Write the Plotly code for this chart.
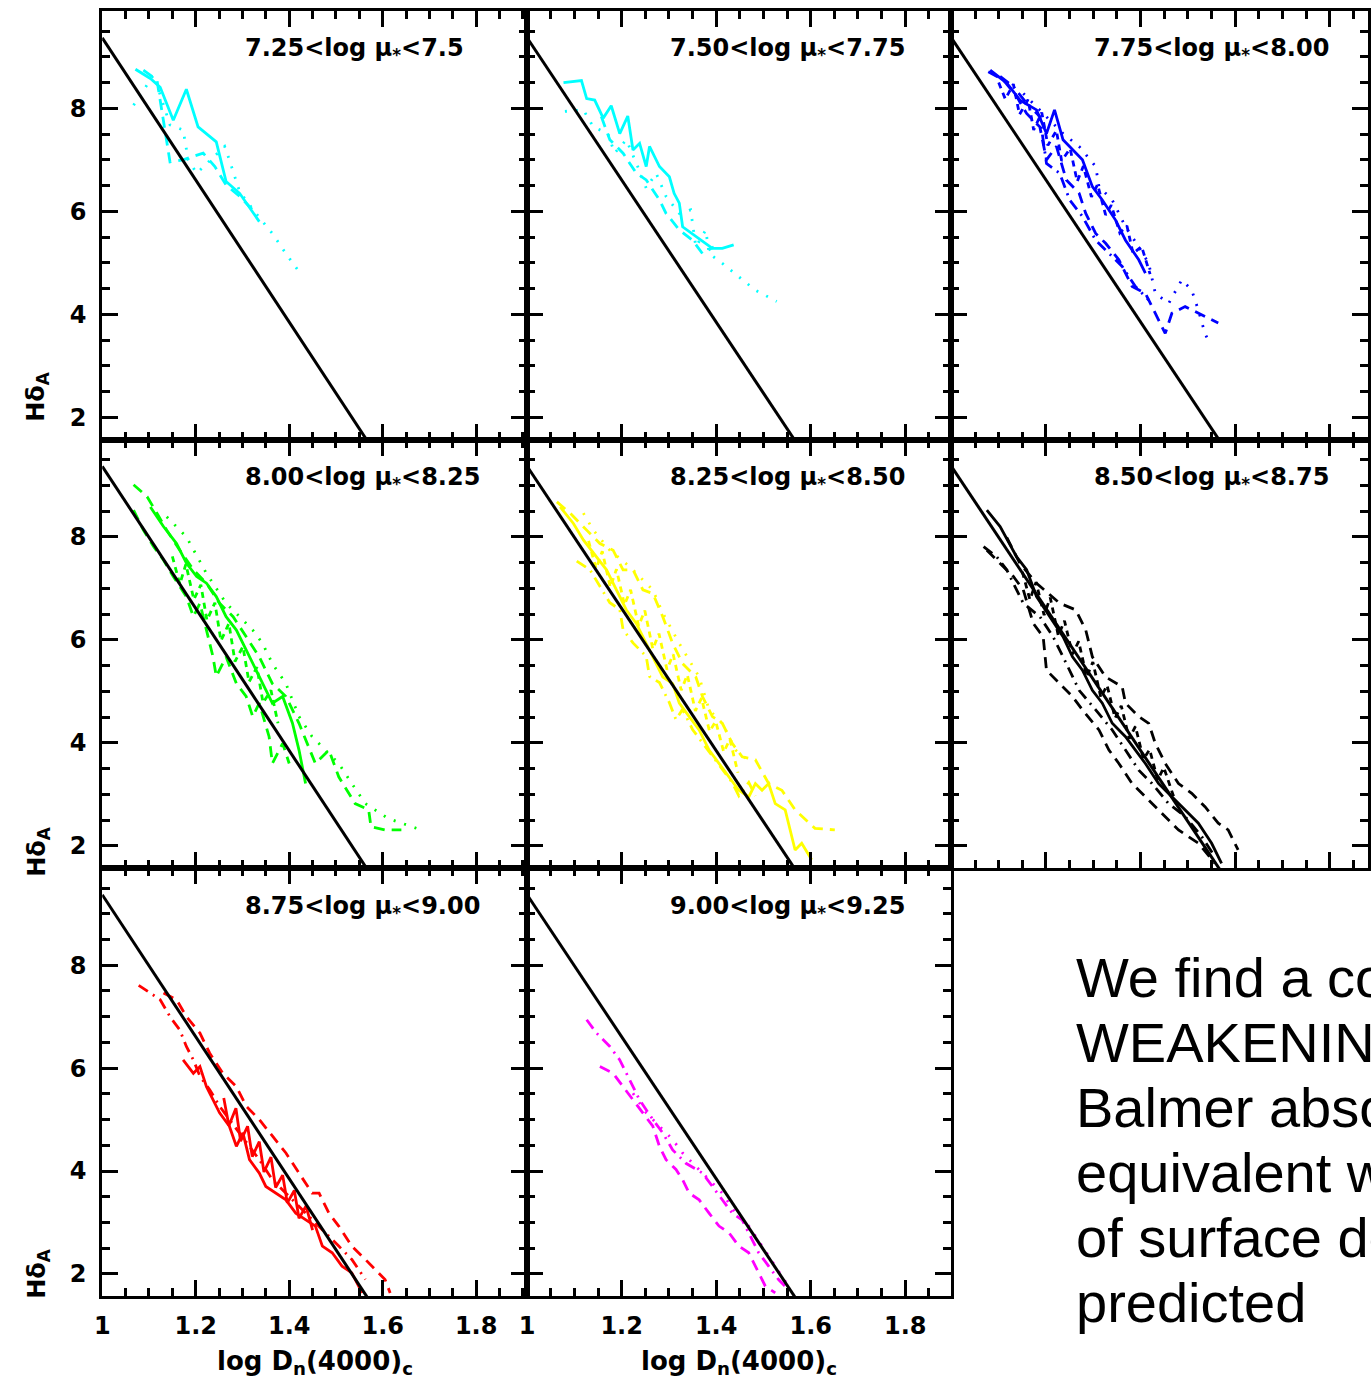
import plotly.graph_objects as go

W, H = 1371, 1383

# ---------------- data ----------------
PANEL_LABELS = ["7.25&lt;log μ<sub>*</sub>&lt;7.5", "7.50&lt;log μ<sub>*</sub>&lt;7.75",
                "7.75&lt;log μ<sub>*</sub>&lt;8.00", "8.00&lt;log μ<sub>*</sub>&lt;8.25",
                "8.25&lt;log μ<sub>*</sub>&lt;8.50", "8.50&lt;log μ<sub>*</sub>&lt;8.75",
                "8.75&lt;log μ<sub>*</sub>&lt;9.00", "9.00&lt;log μ<sub>*</sub>&lt;9.25"]
PANEL_COLORS = ["#00FFFF", "#00FFFF", "#0000FF", "#00FF00", "#FFFF00", "#000000", "#FF0000", "#FF00FF"]

MODEL_X = [1.0, 1.60]
MODEL_Y = [9.37, 1.09]

X_TICKS = [1.0, 1.2, 1.4, 1.6, 1.8]
X_TICKTEXT = ["1", "1.2", "1.4", "1.6", "1.8"]
Y_TICKS = [2, 4, 6, 8]
Y_TICKTEXT = ["2", "4", "6", "8"]

# panel 1 (cyan)
P1_SOLID_X = [1.071, 1.103, 1.124, 1.152, 1.180, 1.205, 1.244, 1.265, 1.294, 1.336]
P1_SOLID_Y = [8.76, 8.58, 8.41, 7.77, 8.37, 7.64, 7.35, 6.58, 6.35, 5.80]
P1_DOT_X = [1.067, 1.110, 1.145, 1.173, 1.184, 1.202, 1.262, 1.272, 1.294, 1.329, 1.364, 1.393, 1.421]
P1_DOT_Y = [8.06, 8.65, 7.68, 7.58, 7.00, 6.74, 7.26, 7.00, 6.38, 5.96, 5.57, 5.18, 4.83]
P1_DASH_X = [1.088, 1.117, 1.145, 1.173, 1.216, 1.241, 1.265, 1.294, 1.329]
P1_DASH_Y = [8.74, 8.55, 6.96, 7.00, 7.13, 6.87, 6.51, 6.29, 5.96]

# panel 2 (cyan)
P2_SOLID_X = [1.077, 1.115, 1.126, 1.143, 1.161, 1.178, 1.196, 1.213, 1.224, 1.238, 1.252, 1.259, 1.280,
              1.301, 1.311, 1.322, 1.329, 1.357, 1.392, 1.413, 1.437]
P2_SOLID_Y = [8.50, 8.54, 8.19, 8.16, 7.81, 8.05, 7.51, 7.85, 7.19, 7.32, 6.87, 7.26, 6.87,
              6.67, 6.35, 6.16, 5.70, 5.51, 5.28, 5.28, 5.35]
P2_DOT_X = [1.080, 1.119, 1.140, 1.171, 1.185, 1.210, 1.234, 1.252, 1.273, 1.294, 1.322, 1.346, 1.357,
            1.378, 1.385, 1.413, 1.448, 1.483, 1.528]
P2_DOT_Y = [7.94, 7.97, 7.64, 7.51, 7.13, 7.39, 6.87, 6.45, 6.74, 6.29, 5.96, 6.03, 5.31,
            5.64, 5.18, 4.99, 4.73, 4.47, 4.25]
P2_DASH_X = [1.157, 1.175, 1.203, 1.231, 1.252, 1.280, 1.294, 1.322, 1.350, 1.371, 1.395]
P2_DASH_Y = [7.84, 7.39, 7.13, 6.74, 6.61, 6.22, 5.96, 5.64, 5.44, 5.18, 5.31]

# panel 3 (blue)
P3_SOLID_X = [1.082, 1.117, 1.145, 1.180, 1.201, 1.218, 1.236, 1.256, 1.277, 1.298, 1.319, 1.347, 1.368, 1.396, 1.410]
P3_SOLID_Y = [8.74, 8.49, 8.16, 7.97, 7.51, 7.97, 7.39, 7.19, 7.00, 6.48, 6.22, 5.83, 5.44, 5.06, 4.80]
P3_DASH_X = [1.078, 1.110, 1.138, 1.159, 1.187, 1.201, 1.222, 1.243, 1.270, 1.284, 1.305, 1.326, 1.354,
             1.382, 1.410, 1.438, 1.452, 1.466, 1.494, 1.536, 1.564]
P3_DASH_Y = [8.71, 8.55, 8.23, 7.90, 7.64, 7.00, 7.26, 6.61, 6.35, 5.96, 5.57, 5.38, 5.06,
             4.54, 4.41, 3.89, 3.63, 4.02, 4.15, 3.96, 3.83]
P3_DOT_X = [1.152, 1.180, 1.208, 1.236, 1.270, 1.305, 1.312, 1.340, 1.368, 1.396, 1.417, 1.431, 1.459,
            1.487, 1.508, 1.522, 1.536, 1.547]
P3_DOT_Y = [8.29, 8.03, 7.77, 7.51, 7.26, 6.87, 6.48, 6.22, 5.70, 5.31, 4.99, 4.41, 4.21,
            4.67, 4.47, 4.08, 3.63, 3.41]
P3_DASHDOT_X = [1.103, 1.131, 1.159, 1.187, 1.201, 1.229, 1.250, 1.277, 1.305, 1.333, 1.361, 1.389, 1.417]
P3_DASHDOT_Y = [8.62, 8.42, 8.10, 7.84, 6.93, 6.74, 6.22, 5.90, 5.44, 5.18, 4.93, 4.54, 4.28]
P3_JAG_X = [1.100, 1.114, 1.131, 1.144, 1.162, 1.174, 1.191, 1.204, 1.222, 1.233, 1.251, 1.266, 1.279,
            1.296, 1.309, 1.326, 1.338, 1.356, 1.371, 1.384, 1.402, 1.420]
P3_JAG_Y = [8.50, 8.18, 8.47, 7.88, 8.17, 7.58, 7.92, 7.28, 7.57, 6.98, 7.22, 6.58, 6.88,
            6.28, 6.52, 5.93, 6.12, 5.58, 5.72, 5.18, 5.32, 4.78]

# panel 4 (green)
P4_DASH_X = [1.067, 1.096, 1.117, 1.138, 1.166, 1.195, 1.223, 1.251, 1.280, 1.308, 1.336, 1.364, 1.393,
             1.421, 1.456, 1.485, 1.506, 1.541, 1.570, 1.575, 1.605, 1.640]
P4_DASH_Y = [9.01, 8.78, 8.46, 8.13, 7.74, 7.36, 7.10, 6.71, 6.45, 6.06, 5.67, 5.15, 4.90,
             4.38, 3.60, 3.86, 3.34, 2.82, 2.70, 2.37, 2.31, 2.31]
P4_SOLID_X = [1.067, 1.088, 1.110, 1.131, 1.152, 1.180, 1.195, 1.209, 1.223, 1.237, 1.244, 1.265, 1.287,
              1.308, 1.322, 1.336, 1.357, 1.364, 1.386, 1.400]
P4_SOLID_Y = [8.52, 8.13, 7.81, 7.55, 7.23, 6.84, 6.45, 6.71, 6.19, 5.67, 5.29, 5.67, 5.15,
              4.90, 4.51, 4.77, 4.12, 3.60, 3.99, 3.60]
P4_MID_X = [1.103, 1.131, 1.159, 1.180, 1.202, 1.223, 1.244, 1.265, 1.287, 1.308, 1.322, 1.343, 1.364,
            1.386, 1.407, 1.421, 1.435]
P4_MID_Y = [8.58, 8.20, 7.87, 7.49, 7.23, 7.10, 6.84, 6.45, 6.19, 5.80, 5.54, 5.15, 4.77,
            4.90, 4.38, 3.86, 3.21]
P4_DOT_X = [1.138, 1.180, 1.223, 1.265, 1.294, 1.322, 1.343, 1.364, 1.393, 1.421, 1.449, 1.478, 1.506,
            1.534, 1.563, 1.612, 1.676]
P4_DOT_Y = [8.39, 8.00, 7.29, 6.71, 6.45, 6.19, 5.93, 5.54, 5.15, 4.51, 4.12, 3.86, 3.60,
            3.21, 2.82, 2.53, 2.33]
P4_JAG_X = [1.150, 1.166, 1.179, 1.196, 1.211, 1.224, 1.241, 1.254, 1.271, 1.284, 1.301, 1.314, 1.331,
            1.344, 1.361, 1.376]
P4_JAG_Y = [7.62, 7.08, 7.47, 6.78, 7.07, 6.38, 6.72, 5.98, 6.32, 5.58, 5.87, 5.18, 5.47,
            4.78, 5.02, 4.38]

# panel 5 (yellow)
P5_DASH_X = [1.063, 1.091, 1.126, 1.154, 1.182, 1.203, 1.224, 1.245, 1.266, 1.287, 1.308, 1.329, 1.357,
             1.371, 1.392, 1.413, 1.434, 1.455, 1.483, 1.511, 1.539, 1.567, 1.609, 1.651]
P5_DASH_Y = [8.68, 8.46, 8.13, 7.87, 7.74, 7.36, 7.36, 6.97, 6.90, 6.45, 5.93, 5.54, 5.28,
             4.90, 4.51, 4.38, 3.99, 3.73, 3.67, 3.21, 3.08, 2.70, 2.34, 2.31]
P5_LOW_X = [1.105, 1.133, 1.154, 1.175, 1.196, 1.203, 1.224, 1.252, 1.259, 1.280, 1.301, 1.315, 1.329,
            1.350, 1.371, 1.392, 1.413, 1.434, 1.448, 1.469, 1.483]
P5_LOW_Y = [7.53, 7.36, 7.04, 6.72, 6.59, 6.20, 5.94, 5.68, 5.29, 5.17, 4.78, 4.45, 4.65,
            4.26, 4.00, 3.74, 3.48, 3.23, 2.97, 3.23, 2.97]
P5_SOLID_X = [1.070, 1.098, 1.119, 1.147, 1.168, 1.189, 1.210, 1.231, 1.252, 1.273, 1.287, 1.308, 1.322,
              1.343, 1.364, 1.385, 1.406, 1.427, 1.448, 1.469, 1.483, 1.497, 1.511, 1.525, 1.546, 1.567,
              1.581, 1.602]
P5_SOLID_Y = [8.58, 8.26, 7.94, 7.61, 7.36, 6.97, 6.58, 6.32, 5.93, 5.54, 5.28, 5.15, 4.77,
              4.51, 4.25, 3.86, 3.60, 3.34, 3.08, 2.95, 3.21, 3.08, 3.21, 2.82, 2.70, 1.92,
              2.05, 1.73]
P5_DOT_X = [1.119, 1.140, 1.175, 1.217, 1.266, 1.287, 1.322, 1.364, 1.385, 1.413, 1.441, 1.476]
P5_DOT_Y = [8.46, 8.13, 7.74, 7.42, 6.97, 6.52, 5.93, 5.28, 4.64, 4.38, 3.86, 3.60]
P5_JAG_X = [1.130, 1.146, 1.159, 1.176, 1.189, 1.206, 1.219, 1.236, 1.249, 1.266, 1.279, 1.296, 1.309,
            1.326, 1.339, 1.356, 1.369, 1.386, 1.399, 1.416, 1.429, 1.446]
P5_JAG_Y = [7.92, 7.38, 7.72, 7.02, 7.37, 6.68, 6.97, 6.27, 6.57, 5.82, 6.12, 5.42, 5.72,
            5.02, 5.32, 4.62, 4.87, 4.22, 4.42, 3.82, 4.07, 3.42]

# panel 6 (black)
P6_A_X = [1.075, 1.103, 1.138, 1.159, 1.180, 1.208, 1.236, 1.256, 1.277, 1.298, 1.319, 1.340, 1.368,
          1.389, 1.410, 1.438, 1.466, 1.494, 1.522, 1.550, 1.571]
P6_A_Y = [8.52, 8.20, 7.61, 7.36, 6.84, 6.45, 6.06, 5.67, 5.41, 5.02, 4.77, 4.38, 4.12,
          3.86, 3.60, 3.21, 2.95, 2.69, 2.44, 2.05, 1.66]
P6_B_X = [1.075, 1.103, 1.131, 1.152, 1.173, 1.194, 1.201, 1.229, 1.256, 1.277, 1.312, 1.333, 1.354,
          1.382, 1.410, 1.452, 1.480, 1.522, 1.557]
P6_B_Y = [7.74, 7.48, 7.23, 6.97, 6.32, 6.06, 5.41, 5.15, 4.90, 4.64, 4.25, 3.86, 3.60,
          3.21, 2.95, 2.57, 2.31, 2.05, 1.66]
P6_C_X = [1.117, 1.145, 1.180, 1.229, 1.263, 1.284, 1.298, 1.326, 1.361, 1.368, 1.396, 1.417, 1.431,
          1.452, 1.480, 1.508, 1.536, 1.564, 1.585, 1.606]
P6_C_Y = [7.99, 7.48, 7.10, 6.71, 6.58, 6.19, 5.67, 5.28, 5.09, 4.77, 4.51, 4.38, 3.99,
          3.60, 3.21, 3.02, 2.76, 2.44, 2.31, 1.92]
P6_D_X = [1.068, 1.096, 1.117, 1.152, 1.187, 1.215, 1.243, 1.270, 1.305, 1.340, 1.368, 1.396, 1.424,
          1.459, 1.494, 1.529, 1.557]
P6_D_Y = [7.81, 7.61, 7.36, 6.71, 6.45, 6.06, 5.54, 5.02, 4.64, 4.25, 3.86, 3.47, 3.21,
          2.82, 2.57, 2.18, 1.79]
P6_JAG_X = [1.150, 1.166, 1.179, 1.196, 1.209, 1.226, 1.239, 1.256, 1.269, 1.286, 1.299, 1.316, 1.329,
            1.346, 1.359, 1.376, 1.389, 1.406, 1.419, 1.436, 1.449, 1.470]
P6_JAG_Y = [7.32, 6.78, 7.12, 6.48, 6.82, 6.08, 6.37, 5.72, 5.97, 5.28, 5.57, 4.88, 5.12,
            4.48, 4.72, 4.08, 4.32, 3.68, 3.87, 3.28, 3.52, 2.95]

# panel 7 (red)
P7_DASHDOT_X = [1.078, 1.103, 1.124, 1.145, 1.166, 1.180, 1.195, 1.209, 1.230, 1.251, 1.272, 1.294, 1.315,
                1.336, 1.364, 1.393, 1.421, 1.449, 1.478, 1.506, 1.534, 1.563]
P7_DASHDOT_Y = [7.61, 7.46, 7.33, 7.00, 6.74, 6.42, 6.16, 5.84, 5.58, 5.26, 5.00, 4.74, 4.48,
                4.22, 3.83, 3.57, 3.31, 3.05, 2.80, 2.54, 2.28, 1.89]
P7_DASH_X = [1.131, 1.159, 1.180, 1.209, 1.230, 1.258, 1.287, 1.308, 1.336, 1.364, 1.393, 1.421, 1.449,
             1.464, 1.485, 1.506, 1.534, 1.563, 1.591, 1.605, 1.616]
P7_DASH_Y = [7.46, 7.33, 7.00, 6.68, 6.29, 5.90, 5.64, 5.26, 5.00, 4.67, 4.35, 3.96, 3.57,
             3.57, 3.18, 2.93, 2.54, 2.28, 2.02, 1.89, 1.63]
P7_SOLID_X = [1.173, 1.195, 1.209, 1.223, 1.251, 1.272, 1.287, 1.301, 1.315, 1.336, 1.350, 1.372, 1.393,
              1.414, 1.435, 1.456, 1.471, 1.492, 1.513, 1.534, 1.556]
P7_SOLID_Y = [6.16, 5.90, 6.03, 5.64, 5.13, 4.87, 4.48, 4.74, 4.22, 3.96, 3.70, 3.57, 3.44,
              3.18, 3.05, 2.93, 2.54, 2.41, 2.15, 2.02, 1.63]
P7_JAG_X = [1.260, 1.271, 1.286, 1.296, 1.311, 1.321, 1.336, 1.346, 1.361, 1.371, 1.386, 1.396, 1.411,
            1.421, 1.436, 1.450]
P7_JAG_Y = [5.42, 4.88, 5.22, 4.58, 4.87, 4.28, 4.57, 3.98, 4.27, 3.68, 3.92, 3.38, 3.62,
            3.08, 3.32, 2.85]

# panel 8 (magenta)
P8_DASHDOT_X = [1.126, 1.147, 1.175, 1.196, 1.217, 1.238, 1.266, 1.287, 1.308, 1.336, 1.371, 1.392, 1.413,
                1.434, 1.455, 1.469, 1.490, 1.511, 1.532, 1.553]
P8_DASHDOT_Y = [6.94, 6.68, 6.42, 6.16, 5.77, 5.38, 5.00, 4.74, 4.41, 4.15, 3.96, 3.70, 3.44,
                3.18, 3.05, 2.80, 2.41, 2.15, 1.89, 1.69]
P8_LOW_X = [1.154, 1.182, 1.203, 1.224, 1.245, 1.266, 1.280, 1.294, 1.315, 1.329, 1.343, 1.364, 1.385,
            1.406, 1.427, 1.448, 1.469, 1.490, 1.504, 1.525]
P8_LOW_Y = [6.03, 5.90, 5.64, 5.38, 5.13, 4.87, 4.48, 4.22, 4.03, 3.83, 3.57, 3.44, 3.18,
            2.93, 2.80, 2.54, 2.41, 2.02, 1.76, 1.63]
P8_DOT_X = [1.224, 1.252, 1.280, 1.308, 1.329, 1.357, 1.385, 1.413, 1.441, 1.469, 1.497, 1.525, 1.553]
P8_DOT_Y = [5.51, 5.13, 4.87, 4.61, 4.35, 4.09, 3.83, 3.57, 3.18, 2.93, 2.54, 2.15, 1.76]

TEXT_LINES = ["We find a considerable", "WEAKENING of the", "Balmer absorption",
              "equivalent width at high", "of surface density than", "predicted"]

# ---------------- styles ----------------
DASH = {"solid": "solid", "dot": "2px,9px", "dash": "11px,7px", "dashdot": "11px,6px,2px,6px",
        "short": "6px,5px"}

PANEL_SERIES = [
    [(P1_SOLID_X, P1_SOLID_Y, "solid"), (P1_DOT_X, P1_DOT_Y, "dot"), (P1_DASH_X, P1_DASH_Y, "dash")],
    [(P2_SOLID_X, P2_SOLID_Y, "solid"), (P2_DOT_X, P2_DOT_Y, "dot"), (P2_DASH_X, P2_DASH_Y, "dash")],
    [(P3_SOLID_X, P3_SOLID_Y, "solid"), (P3_DASH_X, P3_DASH_Y, "dash"), (P3_DOT_X, P3_DOT_Y, "dot"),
     (P3_DASHDOT_X, P3_DASHDOT_Y, "dashdot"), (P3_JAG_X, P3_JAG_Y, "short")],
    [(P4_DASH_X, P4_DASH_Y, "dash"), (P4_SOLID_X, P4_SOLID_Y, "dash"), (P4_MID_X, P4_MID_Y, "solid"),
     (P4_DOT_X, P4_DOT_Y, "dot"), (P4_JAG_X, P4_JAG_Y, "short")],
    [(P5_DASH_X, P5_DASH_Y, "dash"), (P5_LOW_X, P5_LOW_Y, "dashdot"), (P5_SOLID_X, P5_SOLID_Y, "solid"),
     (P5_DOT_X, P5_DOT_Y, "dot"), (P5_JAG_X, P5_JAG_Y, "short")],
    [(P6_A_X, P6_A_Y, "solid"), (P6_B_X, P6_B_Y, "dash"), (P6_C_X, P6_C_Y, "dash"),
     (P6_D_X, P6_D_Y, "dashdot"), (P6_JAG_X, P6_JAG_Y, "short")],
    [(P7_DASHDOT_X, P7_DASHDOT_Y, "dashdot"), (P7_DASH_X, P7_DASH_Y, "dash"),
     (P7_SOLID_X, P7_SOLID_Y, "solid"), (P7_JAG_X, P7_JAG_Y, "solid")],
    [(P8_DASHDOT_X, P8_DASHDOT_Y, "dashdot"), (P8_LOW_X, P8_LOW_Y, "dash"), (P8_DOT_X, P8_DOT_Y, "dot")],
]

# panel geometry in pixels
COL_LEFT = [95.0, 523.3, 951.0]
COL_RIGHT = [523.3, 951.0, 1371.0]
COL_XMAX = [1.909, 1.8976, 1.8805]
ROW_TOP = [11.0, 439.5, 868.0]
ROW_BOT = [439.5, 868.0, 1296.0]
Y_RANGE = [1.57, 9.89]
PANEL_POS = [(0, 0), (0, 1), (0, 2), (1, 0), (1, 1), (1, 2), (2, 0), (2, 1)]


def px(x):
    return x / W


def py(y):
    return 1 - y / H


FONT = "DejaVu Sans"
fig = go.Figure()
layout = {}
annotations = []

for i, (r, c) in enumerate(PANEL_POS):
    n = i + 1
    xa = "x" if n == 1 else f"x{n}"
    ya = "y" if n == 1 else f"y{n}"
    for xs, ys, style in PANEL_SERIES[i]:
        fig.add_trace(go.Scatter(x=xs, y=ys, mode="lines", xaxis=xa, yaxis=ya, showlegend=False,
                                 line=dict(color=PANEL_COLORS[i], width=2.8, dash=DASH[style])))
    fig.add_trace(go.Scatter(x=MODEL_X, y=MODEL_Y, mode="lines", xaxis=xa, yaxis=ya, showlegend=False,
                             line=dict(color="black", width=3)))

    show_x = (r == 2)
    show_y = (c == 0)
    common = dict(showline=True, linecolor="black", linewidth=3, mirror="ticks",
                  ticks="inside", tickwidth=3, tickcolor="black", showgrid=False, zeroline=False,
                  tickfont=dict(family=FONT, size=24, color="black", weight="bold"))
    layout["xaxis" if n == 1 else f"xaxis{n}"] = dict(
        common, domain=[px(COL_LEFT[c]), px(COL_RIGHT[c])], range=[1.0, COL_XMAX[c]],
        anchor=ya, tickvals=X_TICKS, ticktext=X_TICKTEXT, ticklen=16, showticklabels=show_x,
        minor=dict(ticks="inside", dtick=0.05, tick0=1.0, ticklen=8, tickwidth=3, tickcolor="black"),
        ticklabelstandoff=6)
    layout["yaxis" if n == 1 else f"yaxis{n}"] = dict(
        common, domain=[py(ROW_BOT[r]), py(ROW_TOP[r])], range=Y_RANGE,
        anchor=xa, tickvals=Y_TICKS, ticktext=Y_TICKTEXT, ticklen=16, showticklabels=show_y,
        minor=dict(ticks="inside", dtick=0.5, tick0=0, ticklen=8, tickwidth=3, tickcolor="black"),
        ticklabelstandoff=8)

    annotations.append(dict(text=PANEL_LABELS[i], xref="paper", yref="paper",
                            x=px(COL_LEFT[c] + 142), y=py(ROW_TOP[r] + 39),
                            xanchor="left", yanchor="middle", showarrow=False,
                            font=dict(family=FONT, size=24, color="black", weight="bold")))

# y-axis titles
for yc in [397, 852, 1274]:
    annotations.append(dict(text="Hδ<sub>A</sub>", xref="paper", yref="paper", x=px(30), y=py(yc),
                            xanchor="center", yanchor="middle", textangle=-90, showarrow=False,
                            font=dict(family=FONT, size=24, color="black", weight="bold")))
# x-axis titles
for xc in [309, 737]:
    annotations.append(dict(text="log D<sub>n</sub>(4000)<sub>c</sub>", xref="paper", yref="paper",
                            x=px(xc), y=py(1362), xanchor="center", yanchor="middle", showarrow=False,
                            font=dict(family=FONT, size=26, color="black", weight="bold")))
# slide text
for k, line in enumerate(TEXT_LINES):
    annotations.append(dict(text=line, xref="paper", yref="paper", x=px(1075), y=py(977 + 65 * k),
                            xanchor="left", yanchor="middle", showarrow=False,
                            font=dict(family="Liberation Sans", size=56, color="black")))

fig.update_layout(**layout)
fig.update_layout(width=W, height=H, margin=dict(l=0, r=0, t=0, b=0),
                  paper_bgcolor="white", plot_bgcolor="white", showlegend=False,
                  annotations=annotations)
fig.write_html("out.html", config={"displayModeBar": False, "staticPlot": True},
               post_script="document.body.style.margin='0';document.body.style.overflow='hidden';")
